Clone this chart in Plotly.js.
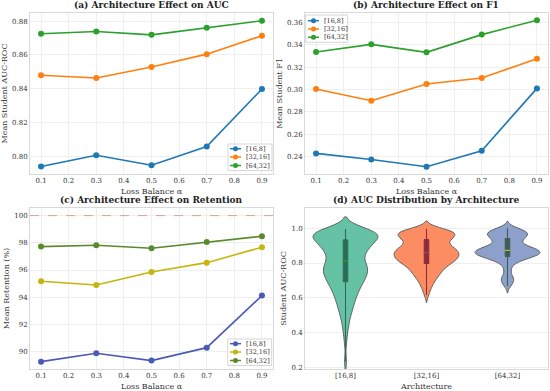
<!DOCTYPE html>
<html>
<head>
<meta charset="utf-8">
<script src="https://cdn.plot.ly/plotly-3.0.1.min.js"></script>
<style>html,body{margin:0;padding:0;background:#fff;}#chart{width:550px;height:391px;}</style>
</head>
<body>
<div id="chart"></div>
<script>
// ---------- data ----------
const alphas = [0.1, 0.3, 0.5, 0.7, 0.9];
const archNames = ["[16,8]", "[32,16]", "[64,32]"];

const aucArch16 = [0.7941, 0.8008, 0.7949, 0.8059, 0.8399];
const aucArch32 = [0.8480, 0.8464, 0.8529, 0.8605, 0.8714];
const aucArch64 = [0.8725, 0.8739, 0.8719, 0.8761, 0.8802];

const f1Arch16 = [0.2430, 0.2376, 0.2311, 0.2454, 0.3010];
const f1Arch32 = [0.3004, 0.2900, 0.3050, 0.3103, 0.3275];
const f1Arch64 = [0.3335, 0.3403, 0.3332, 0.3490, 0.3618];

const retArch16 = [89.26, 89.88, 89.34, 90.29, 94.12];
const retArch32 = [95.17, 94.90, 95.86, 96.54, 97.67];
const retArch64 = [97.72, 97.82, 97.60, 98.06, 98.48];
const retReference = 100;

// per-run student AUC values (estimated from the violin shapes)
const aucSamples16 = [
  0.994,0.992,0.991,0.989,0.987,0.986,0.984,0.982,0.981,0.979,0.978,0.976,0.975,0.973,0.972,0.970,
  0.969,0.967,0.965,0.963,0.961,0.959,0.957,0.955,0.953,0.951,
  0.949,0.946,0.944,0.941,0.938,0.936,0.933,0.931,
  0.928,0.925,0.922,0.919,0.916,0.913,0.911,
  0.908,0.905,0.901,0.898,0.895,0.892,
  0.889,0.886,0.882,0.878,0.875,0.871,
  0.868,0.864,0.860,0.856,0.852,
  0.847,0.842,0.837,0.832,
  0.827,0.822,0.817,0.812,
  0.808,0.804,0.800,0.796,0.792,
  0.789,0.786,0.782,0.779,0.775,0.772,
  0.769,0.766,0.762,0.759,0.755,0.752,
  0.749,0.746,0.742,0.739,0.735,0.732,
  0.728,0.724,0.720,0.716,0.712,
  0.708,0.704,0.700,0.696,0.692,
  0.688,0.683,0.678,0.673,
  0.668,0.663,0.658,0.653,
  0.647,0.640,0.633,
  0.627,0.620,0.613,
  0.607,0.600,0.593,
  0.585,0.575, 0.565,0.555, 0.545,0.535, 0.525,0.513,
  0.498, 0.479, 0.458, 0.437, 0.405, 0.352, 0.236];
const aucSamples32 = [
  0.996,0.993,0.991,0.989,0.987,0.985,0.983,0.981,0.979,0.977,0.974,0.971,
  0.968,0.966,0.963,0.961,0.959,0.956,0.954,0.952,0.950,
  0.947,0.944,0.941,0.938,0.935,0.932,0.929,
  0.926,0.921,0.916,0.911,
  0.907,0.904,0.900,0.897,0.894,0.891,
  0.889,0.887,0.884,0.882,0.879,0.877,0.874,0.871,
  0.869,0.867,0.865,0.862,0.860,0.858,0.855,0.853,0.851,
  0.849,0.847,0.845,0.842,0.840,0.838,0.835,0.833,0.831,
  0.829,0.826,0.824,0.821,0.819,0.816,0.814,0.811,
  0.809,0.806,0.803,0.800,0.797,0.794,0.791,
  0.788,0.784,0.780,0.776,0.772,
  0.768,0.763,0.758,0.753,
  0.748,0.743,0.737,0.732,
  0.727,0.720,0.713,
  0.705,0.695, 0.686,0.674, 0.662, 0.643, 0.618];
const aucSamples64 = [
  0.998,0.995,0.992,0.989,0.986,0.983,0.980,0.977,0.974,0.972,0.970,
  0.968,0.965,0.962,0.959,0.956,0.953,0.950,
  0.947,0.943,0.940,0.936,0.933,0.930,
  0.925,0.917,0.909,
  0.904,0.900,0.897,0.894,0.891,
  0.889,0.887,0.885,0.883,0.881,0.879,0.877,0.875,0.873,0.871,
  0.869,0.868,0.866,0.865,0.863,0.862,0.860,0.858,0.857,0.855,0.854,0.852,0.851,
  0.849,0.847,0.845,0.843,0.841,0.839,0.837,0.835,0.833,0.831,
  0.828,0.824,0.820,0.816,0.812,
  0.805,0.795, 0.782, 0.765, 0.748,
  0.726,0.716, 0.708,0.700,0.693, 0.682, 0.668];

// ---------- styles ----------
const FONT = "DejaVu Serif";
const W = 550, H = 391;
const lineColorsAB = ["#1f77b4", "#ff7f0e", "#2ca02c"];
const lineColorsC = ["#4b5ab5", "#c6b40f", "#5b8a2d"];
const violinFill = ["#66c2a5", "#fc8d62", "#8da0cb"];
const violinBox = ["#2b6e56", "#8c2b3e", "#3e5d57"];
const violinBw = [0.035, 0.022, 0.02];

const traces = [];
function addLines(xa, ya, series, colors) {
  series.forEach((s, i) => {
    traces.push({
      type: "scatter", mode: "lines+markers", x: alphas, y: s, name: archNames[i],
      xaxis: xa, yaxis: ya, showlegend: false,
      line: {color: colors[i], width: 1.6}, marker: {color: colors[i], size: 6}
    });
  });
}
addLines("x", "y", [aucArch16, aucArch32, aucArch64], lineColorsAB);
addLines("x2", "y2", [f1Arch16, f1Arch32, f1Arch64], lineColorsAB);
traces.push({type: "scatter", mode: "lines", x: [0.06, 0.94], y: [retReference, retReference],
  xaxis: "x3", yaxis: "y3", showlegend: false,
  line: {color: "rgba(214,138,98,0.75)", width: 1, dash: "dash"}});
addLines("x3", "y3", [retArch16, retArch32, retArch64], lineColorsC);

function quantile(arr, q) {
  const s = arr.slice().sort((a, b) => a - b);
  const pos = (s.length - 1) * q, lo = Math.floor(pos), hi = Math.ceil(pos);
  return s[lo] + (s[hi] - s[lo]) * (pos - lo);
}
[aucSamples16, aucSamples32, aucSamples64].forEach((samp, i) => {
  traces.push({
    type: "violin", x0: archNames[i], y: samp, name: archNames[i],
    xaxis: "x4", yaxis: "y4", showlegend: false,
    bandwidth: violinBw[i], spanmode: "soft", scalemode: "width", width: 0.8,
    points: false, fillcolor: violinFill[i], opacity: 1,
    line: {color: "#5f6360", width: 1},
    box: {visible: true, width: 0.07, fillcolor: violinBox[i], line: {color: violinBox[i], width: 1}},
    meanline: {visible: false}, hoverinfo: "skip"
  });
  traces.push({
    type: "scatter", mode: "lines", x: [archNames[i], archNames[i]],
    y: [Math.min(...samp), Math.max(...samp)], xaxis: "x4", yaxis: "y4", showlegend: false,
    line: {color: violinBox[i], width: 1.1}
  });
  traces.push({
    type: "scatter", mode: "markers", x: [archNames[i]], y: [quantile(samp, 0.5)],
    xaxis: "x4", yaxis: "y4", showlegend: false,
    marker: {symbol: "line-ew-open", size: 4, line: {color: "#ffffff", width: 1.2}}
  });
});

// ---------- layout ----------
const gridC = "#ebebeb", frameC = "#d9d9d9";
function ax(extra) {
  return Object.assign({
    showgrid: true, gridcolor: gridC, gridwidth: 0.8, zeroline: false,
    showline: true, linecolor: frameC, linewidth: 1, mirror: true, ticks: "",
    tickfont: {family: FONT, size: 7, color: "#333"}
  }, extra);
}
function axTitle(t) { return {text: t, font: {family: FONT, size: 8, color: "#333"}, standoff: 3}; }
const xTop = [30 / W, 273 / W], xRight = [305 / W, 548 / W];
const yTop = [1 - 174 / H, 1 - 13 / H], yBot = [1 - 369 / H, 1 - 208 / H];

// legend boxes (drawn as shapes + text, matplotlib-sized)
const shapes = [], annotations = [];
const px = v => v / W, py = v => 1 - v / H;
function legendBox(x0, y0, x1, rowsY, lineX0, colors) {
  shapes.push({type: "rect", xref: "paper", yref: "paper", x0: px(x0), x1: px(x1),
    y0: py(y0), y1: py(rowsY[2] + 5), fillcolor: "rgba(255,255,255,0.85)",
    line: {color: "#cccccc", width: 0.8}, layer: "above"});
  archNames.forEach((nm, i) => {
    const yy = rowsY[i];
    shapes.push({type: "line", xref: "paper", yref: "paper", x0: px(lineX0), x1: px(lineX0 + 11),
      y0: py(yy), y1: py(yy), line: {color: colors[i], width: 1.5}, layer: "above"});
    shapes.push({type: "circle", xref: "paper", yref: "paper", x0: px(lineX0 + 3), x1: px(lineX0 + 8),
      y0: py(yy + 2.5), y1: py(yy - 2.5), fillcolor: colors[i], line: {width: 0}, layer: "above"});
    annotations.push({text: nm, xref: "paper", yref: "paper", x: px(lineX0 + 14), y: py(yy),
      xanchor: "left", yanchor: "middle", showarrow: false,
      font: {family: FONT, size: 6.5, color: "#333"}});
  });
}
legendBox(228, 144, 272, [148.7, 157, 165.5], 230, lineColorsAB);
legendBox(305.7, 15, 347.7, [20.7, 29, 37.3], 308, lineColorsAB);
legendBox(227.7, 339, 271.7, [343.7, 352, 360.5], 230, lineColorsC);

[
  ["(a) Architecture Effect on AUC", xTop, yTop],
  ["(b) Architecture Effect on F1", xRight, yTop],
  ["(c) Architecture Effect on Retention", xTop, yBot],
  ["(d) AUC Distribution by Architecture", xRight, yBot]
].forEach(([t, xd, yd]) => annotations.push({
  text: "<b>" + t + "</b>", xref: "paper", yref: "paper", x: (xd[0] + xd[1]) / 2, y: yd[1],
  xanchor: "center", yanchor: "bottom", yshift: 1, showarrow: false,
  font: {family: FONT, size: 9, color: "#222"}
}));

const layout = {
  width: W, height: H, paper_bgcolor: "#fff", plot_bgcolor: "#fff",
  margin: {l: 0, r: 0, t: 0, b: 0}, showlegend: false,
  font: {family: FONT},
  xaxis: ax({domain: xTop, anchor: "y", range: [0.06, 0.94], dtick: 0.1, tick0: 0.1, title: axTitle("Loss Balance α")}),
  yaxis: ax({domain: yTop, anchor: "x", range: [0.7897, 0.8848], dtick: 0.02, tickformat: ".2f", title: axTitle("Mean Student AUC-ROC")}),
  xaxis2: ax({domain: xRight, anchor: "y2", range: [0.06, 0.94], dtick: 0.1, tick0: 0.1, title: axTitle("Loss Balance α")}),
  yaxis2: ax({domain: yTop, anchor: "x2", range: [0.2246, 0.3683], dtick: 0.02, tickformat: ".2f", title: axTitle("Mean Student F1")}),
  xaxis3: ax({domain: xTop, anchor: "y3", range: [0.06, 0.94], dtick: 0.1, tick0: 0.1, title: axTitle("Loss Balance α")}),
  yaxis3: ax({domain: yBot, anchor: "x3", range: [88.72, 100.56], dtick: 2, tickformat: "d", title: axTitle("Mean Retention (%)")}),
  xaxis4: ax({domain: xRight, anchor: "y4", type: "category", categoryarray: archNames, categoryorder: "array",
    range: [-0.5, 2.5], showgrid: false, title: axTitle("Architecture")}),
  yaxis4: ax({domain: yBot, anchor: "x4", range: [0.193, 1.115], dtick: 0.2, tickformat: ".1f", title: axTitle("Student AUC-ROC")}),
  shapes: shapes, annotations: annotations,
  violingap: 0, violinmode: "overlay"
};

Plotly.newPlot("chart", traces, layout, {displayModeBar: false, staticPlot: true});
</script>
</body>
</html>
